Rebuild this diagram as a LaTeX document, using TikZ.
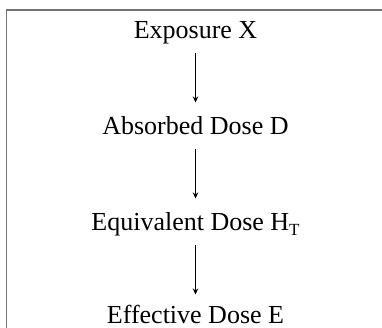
\documentclass[tikz,border=0pt]{standalone}
\usepackage{fontspec}
\setmainfont{Liberation Serif}
\usetikzlibrary{arrows.meta}
\begin{document}
\begin{tikzpicture}[x=1pt,y=1pt,
  lbl/.style={anchor=base,inner sep=0pt,font=\fontsize{26}{30}\selectfont},
  conn/.style={line width=1.6pt,-{Stealth[length=6pt,width=5.5pt]}},
  frame/.style={draw=black!55,line width=1.1pt}]
\useasboundingbox (0,0) rectangle (382,328);
\draw[frame] (6.5,0) -- (6.5,318) -- (383,318);
\node[lbl] (x) at (195.5,289) {Exposure X};
\node[lbl] (d) at (195.5,193) {Absorbed Dose D};
\node[lbl] (h) at (195.5,97) {Equivalent Dose H\raisebox{-5pt}{\fontsize{17}{17}\selectfont T}};
\node[lbl,text depth=0pt] (e) at (195.5,4) {Effective Dose E};
\draw[conn] ([yshift=-14.5pt]x.base) -- ([yshift=32.5pt]d.base);
\draw[conn] ([yshift=-14.5pt]d.base) -- ([yshift=32.5pt]h.base);
\draw[conn] ([yshift=-14.5pt]h.base) -- ([yshift=29.5pt]e.base);
\end{tikzpicture}
\end{document}
